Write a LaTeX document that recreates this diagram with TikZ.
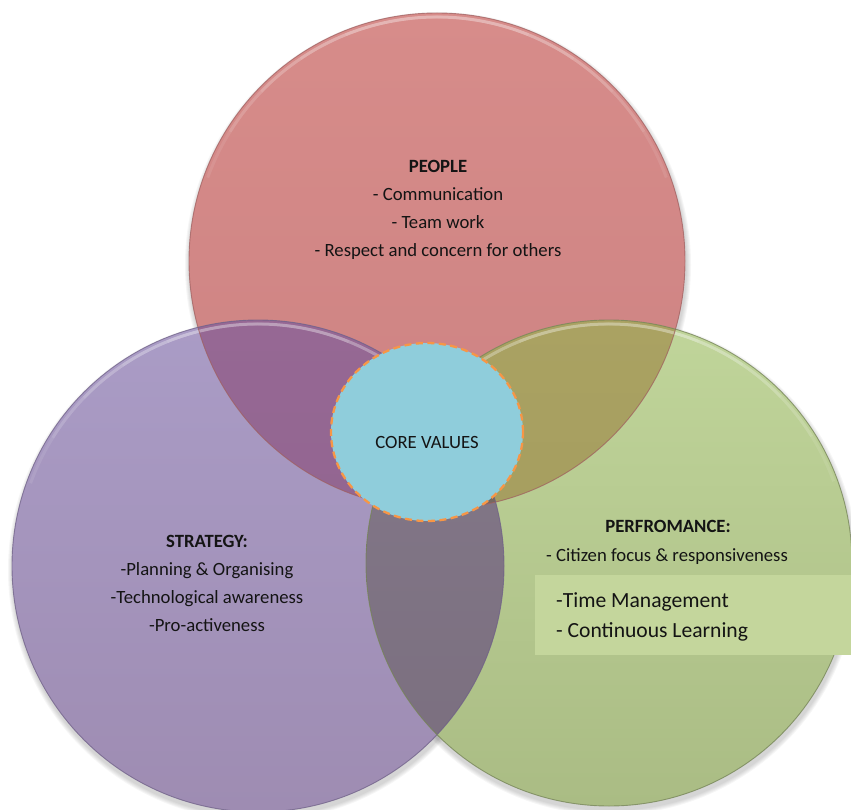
\documentclass[tikz,border=0pt]{standalone}
\usepackage{fontspec}
\setmainfont{Carlito}
\usetikzlibrary{shapes.geometric,calc}

% circle fills (top / bottom of the vertical gradient)
\definecolor{peopleTop}{RGB}{215,140,138}
\definecolor{peopleBot}{RGB}{204,130,130}
\definecolor{peopleEdge}{RGB}{160,95,95}
\definecolor{stratTop}{RGB}{170,156,198}
\definecolor{stratBot}{RGB}{158,140,178}
\definecolor{stratEdge}{RGB}{110,95,135}
\definecolor{perfTop}{RGB}{192,213,154}
\definecolor{perfBot}{RGB}{170,188,132}
\definecolor{perfEdge}{RGB}{115,130,85}
% overlaps
\definecolor{psTop}{RGB}{150,104,148}
\definecolor{psBot}{RGB}{142,98,140}
\definecolor{ppTop}{RGB}{170,162,98}
\definecolor{ppBot}{RGB}{160,152,92}
\definecolor{spTop}{RGB}{132,121,138}
\definecolor{spBot}{RGB}{122,110,126}
\definecolor{triple}{RGB}{118,104,96}
% centre and box
\definecolor{coreFill}{RGB}{143,205,219}
\definecolor{coreDash}{RGB}{247,150,70}
\definecolor{boxFill}{RGB}{196,214,156}
\definecolor{ink}{RGB}{20,20,20}

\tikzset{
  txt/.style={font=\fontsize{18.7}{22}\selectfont, text=ink, inner sep=0pt, anchor=base},
  head/.style={txt, font=\fontsize{18.7}{22}\selectfont\bfseries},
  bigtxt/.style={font=\fontsize{21.6}{26}\selectfont, text=ink, inner sep=0pt, anchor=base west},
  rim/.style={white, line width=3pt, opacity=0.09},
  outline/.style={line width=0.9pt, opacity=0.75}
}

\begin{document}
\begin{tikzpicture}[x=1pt,y=-1pt]
\useasboundingbox (0,0) rectangle (851,810);

% circle centres and radii
\coordinate (cP) at (437,261); \def\rP{248pt}
\coordinate (cS) at (258,566); \def\rS{246pt}
\coordinate (cF) at (609,563); \def\rF{243pt}

% soft shadows below the circles
\foreach \k in {1,...,5}{
  \fill[black, opacity=0.035] ($(cS)+(1,4)$) circle[radius=\rS+\k pt];
  \fill[black, opacity=0.035] ($(cF)+(1,4)$) circle[radius=\rF+\k pt];
  \fill[black, opacity=0.035] ($(cP)+(1,4)$) circle[radius=\rP+\k pt];
}

% the three circles
\shade[top color=peopleTop, bottom color=peopleBot] (cP) circle[radius=\rP];
\shade[top color=stratTop, bottom color=stratBot] (cS) circle[radius=\rS];
\shade[top color=perfTop, bottom color=perfBot] (cF) circle[radius=\rF];

% strategy / performance overlap
\begin{scope}
  \clip (cS) circle[radius=\rS];
  \clip (cF) circle[radius=\rF];
  \shade[top color=spTop, bottom color=spBot] (cS) circle[radius=\rS];
\end{scope}
% overlaps with people, and the common part of all three
\begin{scope}
  \clip (cP) circle[radius=\rP];
  \shade[top color=psTop, bottom color=psBot] (cS) circle[radius=\rS];
  \shade[top color=ppTop, bottom color=ppBot] (cF) circle[radius=\rF];
  \clip (cS) circle[radius=\rS];
  \fill[triple] (cF) circle[radius=\rF];
\end{scope}

% bevel highlights along the top of each circle
\foreach \c/\rr in {cP/244, cS/242, cF/239}{
  \foreach \s in {70,58,46,34,22}{
    \draw[rim] ($(\c)+(90+\s:\rr pt)$) arc[start angle=90+\s, end angle=90-\s, radius=\rr pt];
  }
}

% outlines
\draw[outline, peopleEdge] (cP) circle[radius=\rP];
\draw[outline, stratEdge] (cS) circle[radius=\rS];
\draw[outline, perfEdge] (cF) circle[radius=\rF];

% people
\node[head] (pHead) at (438,173) {PEOPLE};
\node[txt] (p1) at (438,201) {- Communication};
\node[txt] (p2) at (438,229) {- Team work};
\node[txt] (p3) at (438,257) {- Respect and concern for others};

% strategy
\node[head] (sHead) at (207,547) {STRATEGY:};
\node[txt] (s1) at (207,575) {-Planning \& Organising};
\node[txt] (s2) at (207,603) {-Technological awareness};
\node[txt] (s3) at (207,631) {-Pro-activeness};

% performance
\node[head] (fHead) at (668,532) {PERFROMANCE:};
\node[txt] (f1) at (667,561) {- Citizen focus \& responsiveness};

% highlighted box on the right
\fill[boxFill] (535,575) rectangle (851,655);
\node[bigtxt] (f2) at (556,607) {-Time Management};
\node[bigtxt] (f3) at (556,637) {- Continuous Learning};

% core values
\node[ellipse, fill=coreFill, draw=coreDash, line width=2.3pt,
      dash pattern=on 7pt off 4.5pt, minimum width=192pt,
      minimum height=178pt, inner sep=0pt] (core) at (427,432) {};
\node[txt] (coreTxt) at (427,448) {CORE VALUES};

\end{tikzpicture}
\end{document}
